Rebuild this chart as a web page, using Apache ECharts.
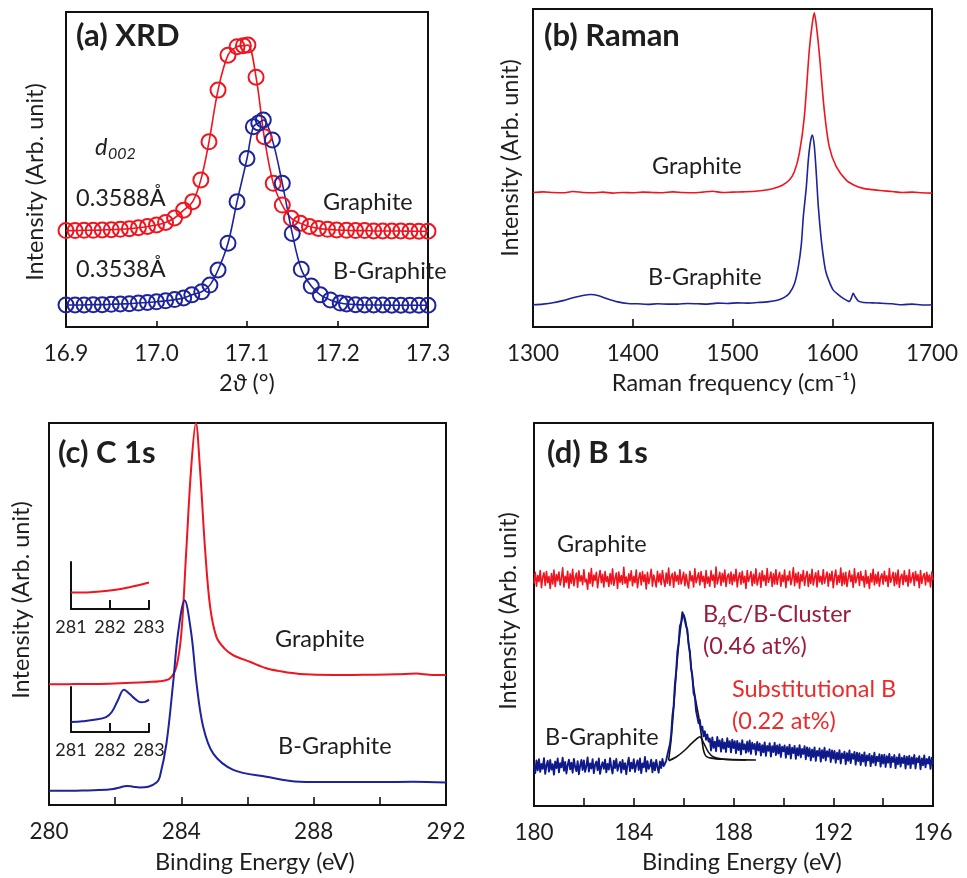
<!DOCTYPE html>
<html>
<head>
<meta charset="utf-8">
<script src="https://cdn.jsdelivr.net/npm/echarts@6.0.0/dist/echarts.min.js"></script>
<style>
html,body{margin:0;padding:0;background:#fff;}
#c{width:967px;height:878px;}
</style>
</head>
<body>
<div id="c"></div>
<script>
// ---------- (a) XRD : [2theta, intensity] ----------
const xrdGraphite = [[16.90,30.6],[16.91,30.6],[16.92,30.7],[16.93,30.7],[16.94,30.8],[16.95,30.9],[16.96,31.0],[16.97,31.2],[16.98,31.5],[16.99,31.9],[17.00,32.4],[17.01,33.2],[17.02,34.6],[17.03,37.1],[17.04,39.8],[17.049,46.7],[17.058,58.8],[17.068,75.2],[17.079,86.3],[17.089,89.0],[17.096,89.3],[17.101,89.5],[17.110,79.3],[17.119,60.4],[17.129,45.6],[17.139,38.7],[17.149,34.5],[17.159,32.9],[17.169,31.9],[17.179,31.3],[17.189,31.0],[17.199,30.8],[17.21,30.7],[17.22,30.6],[17.23,30.6],[17.24,30.5],[17.25,30.5],[17.26,30.5],[17.27,30.5],[17.28,30.4],[17.29,30.4],[17.30,30.4]];
const xrdBGraphite = [[16.90,7.0],[16.91,7.0],[16.92,7.0],[16.93,7.1],[16.94,7.1],[16.95,7.2],[16.96,7.3],[16.97,7.4],[16.98,7.6],[16.99,7.8],[17.00,8.0],[17.01,8.3],[17.02,8.7],[17.03,9.2],[17.039,10.2],[17.050,11.2],[17.059,13.3],[17.068,18.1],[17.079,26.6],[17.089,39.8],[17.100,53.5],[17.107,63.6],[17.113,64.8],[17.118,65.7],[17.128,59.4],[17.139,45.6],[17.150,29.7],[17.160,18.3],[17.171,13.0],[17.181,10.2],[17.192,8.6],[17.203,7.6],[17.21,7.3],[17.22,7.1],[17.23,7.0],[17.24,7.0],[17.25,7.0],[17.26,6.9],[17.27,6.9],[17.28,6.9],[17.29,6.9],[17.30,6.9]];
const xrdTicks = [16.9, 17.0, 17.1, 17.2, 17.3];

// ---------- (b) Raman : [cm-1, intensity] ----------
const ramanGraphite = [[1300,42.3],[1310,42.5],[1320,42.3],[1330,42.2],[1340,42.6],[1350,42.3],[1360,42.2],[1370,42.4],[1380,42.1],[1390,42.3],[1400,42.2],[1410,42.4],[1420,42.3],[1430,42.2],[1440,42.5],[1450,42.3],[1460,42.2],[1470,42.4],[1480,42.7],[1490,42.3],[1500,42.4],[1510,42.5],[1520,42.6],[1530,42.9],[1540,43.5],[1550,44.6],[1557,46.2],[1562,48.8],[1567,54.6],[1572,66.1],[1577,87.1],[1580,95.5],[1582,98.8],[1584,95.0],[1587,86.1],[1592,68.2],[1597,56.7],[1604,50.4],[1614,46.2],[1622,44.6],[1631,43.6],[1640,43.2],[1648,42.9],[1660,42.6],[1670,42.3],[1680,42.4],[1690,42.2],[1700,42.1]];
const ramanBGraphite = [[1300,7.0],[1310,7.2],[1320,7.6],[1330,8.3],[1340,9.2],[1350,9.9],[1358,10.2],[1366,9.8],[1375,8.8],[1385,7.9],[1395,7.4],[1405,7.3],[1415,7.1],[1425,7.3],[1435,7.2],[1445,7.2],[1455,7.4],[1465,7.3],[1475,7.2],[1485,7.5],[1495,7.4],[1505,7.6],[1515,7.5],[1525,7.7],[1535,7.9],[1545,8.4],[1552,9.3],[1557,10.6],[1562,13.5],[1566,19.0],[1569,26.0],[1571,34.7],[1574,44.0],[1576,52.5],[1578,58.0],[1580,60.4],[1582,57.0],[1584,48.3],[1586,38.0],[1589,27.4],[1592,20.0],[1594,16.9],[1598,13.5],[1601,11.6],[1606,10.2],[1611,9.0],[1615,8.3],[1617,8.0],[1619,9.0],[1621,10.6],[1623,9.5],[1626,8.2],[1630,7.8],[1640,7.6],[1648,7.5],[1660,7.3],[1670,7.0],[1680,7.2],[1690,6.9],[1700,7.0]];
const ramanTicks = [1300, 1400, 1500, 1600, 1700];

// ---------- (c) C 1s : [eV, intensity] ----------
const c1sGraphite = [[280.0,31.6],[280.5,31.6],[281.0,31.7],[281.5,31.7],[282.0,31.8],[282.5,32.0],[283.0,32.2],[283.35,32.4],[283.65,33.1],[283.85,36.2],[284.0,44.9],[284.15,66.7],[284.3,88.5],[284.44,100],[284.56,88.5],[284.72,66.7],[284.87,51.9],[285.06,44.0],[285.3,41.0],[285.57,39.2],[286.07,37.5],[286.57,35.8],[287.0,35.0],[287.58,34.3],[288.6,34.0],[289.5,34.1],[290.5,34.2],[291.1,34.4],[291.5,34.1],[292.0,34.0]];
const c1sBGraphite = [[280.0,3.7],[280.5,3.7],[281.0,3.8],[281.5,3.9],[281.94,4.2],[282.14,4.6],[282.34,5.0],[282.54,4.8],[282.74,4.6],[283.0,4.8],[283.25,5.9],[283.35,7.4],[283.55,16.1],[283.75,31.8],[283.9,44.9],[284.1,53.6],[284.3,44.9],[284.46,31.8],[284.66,20.5],[284.96,13.5],[285.57,9.2],[286.57,7.4],[287.58,6.1],[288.6,6.0],[290.0,6.0],[291.0,6.1],[292.0,5.9]];
const c1sTicks = [280, 284, 288, 292];
// insets (281-283 eV)
const insetGraphite = [[281.0,35.0],[281.5,35.7],[282.0,39.3],[282.5,46.4],[283.0,56.4]];
const insetBGraphite = [[281.0,22],[281.3,24],[281.6,27],[281.9,33],[282.05,45],[282.2,70],[282.36,94],[282.5,85],[282.65,73],[282.8,66],[282.9,67],[283.0,72]];
const insetTicks = [281, 282, 283];

// ---------- (d) B 1s : intensity sampled every 0.05 eV from 180.00 eV ----------
const b1sStart = 180.0, b1sStep = 0.05;
const b1sGraphite = [
58.1,61.0,57.4,60.2,58.6,61.5,57.0,59.8,60.9,57.6,61.2,58.3,59.9,56.8,60.7,58.0,61.6,57.3,60.4,58.8,
61.1,57.7,59.5,62.2,57.2,60.0,58.4,61.3,56.9,60.6,58.2,61.8,57.5,59.6,60.8,57.1,61.4,58.7,60.1,57.8,
61.7,58.5,59.2,56.6,60.9,58.1,62.0,57.4,60.3,58.9,61.0,57.0,59.7,61.5,58.3,60.5,57.2,61.2,58.6,59.9,
57.3,60.7,58.0,61.9,57.6,59.4,60.8,56.8,61.1,58.4,60.2,57.9,62.3,58.2,59.8,57.1,60.6,58.8,61.4,57.5,
60.0,58.3,61.6,57.0,59.5,60.9,57.7,61.2,58.6,60.4,56.7,61.0,58.1,59.7,61.8,57.4,60.3,58.9,57.2,61.3,
58.5,60.6,57.8,61.5,59.1,57.3,60.8,58.2,62.1,57.6,59.9,60.7,57.1,61.1,58.7,60.2,57.9,61.7,58.0,59.4,
61.0,57.5,60.5,58.4,56.9,61.3,58.8,60.1,57.2,61.9,58.3,59.6,60.9,57.7,61.2,58.6,60.0,57.0,61.5,58.2,
59.8,57.4,61.4,58.9,60.3,57.1,62.4,58.0,59.5,61.0,57.6,60.7,58.5,61.6,57.3,59.9,60.6,58.1,61.1,57.8,
60.4,58.7,61.8,57.2,59.6,60.9,57.9,61.3,58.3,60.0,56.8,61.5,58.6,59.7,61.2,57.5,60.5,58.2,61.9,57.7,
59.3,60.8,57.1,61.4,58.8,60.2,57.6,62.0,58.4,59.5,61.1,57.3,60.6,58.0,61.7,57.9,59.8,61.0,57.4,60.3,
58.6,61.6,57.0,60.1,58.9,61.3,57.8,59.4,62.2,57.5,60.7,58.3,61.0,56.9,60.4,58.7,61.5,57.6,59.9,61.2,
57.3,60.5,58.1,61.8,57.7,59.6,60.9,57.2,61.4,58.5,60.0,57.9,61.7,58.2,59.7,61.1,57.4,60.6,58.8,61.3,
57.0,59.8,61.6,57.8,60.2,58.4,62.1,57.5,60.8,58.0,61.0,57.3,59.5,61.4,58.6,60.3,57.1,61.9,58.3,59.6,
60.9,57.6,61.2,58.9,60.0,57.2,61.5,58.1,59.9,56.8,60.7,58.5,61.8,57.7,60.4,58.2,61.1,57.4,59.7,60.6,
57.9,61.3,58.7,60.1,57.3,62.0,58.4,59.6,61.0,57.5,60.8,58.0,61.6,57.1,59.8,60.5,57.8,61.4,58.6,60.2,
57.4,61.7,58.3,59.5,60.9,57.6,61.2,58.8,60.4,57.0,61.5,58.1,59.9,60.7,57.7,61.0,58.5,60.3,57.2,61.1,
59.0];
const b1sBGraphite = [
10.8,8.6,11.9,9.3,12.2,8.9,11.0,9.7,12.5,8.4,10.6,11.8,9.0,12.0,9.5,10.9,8.2,11.6,9.9,12.4,
8.8,11.2,10.1,12.6,9.2,11.5,8.5,10.7,12.1,9.6,11.3,8.7,12.3,10.2,9.1,11.7,8.3,10.5,12.0,9.4,
11.9,8.9,10.4,12.7,9.0,11.1,9.8,12.2,8.6,10.8,11.6,9.3,12.4,8.4,10.3,11.4,9.7,12.1,8.8,11.0,
9.5,12.5,10.0,8.5,11.8,9.9,12.3,9.2,10.6,11.5,8.7,12.0,9.6,11.2,8.3,10.9,12.6,9.1,11.3,9.8,
12.2,8.9,10.7,11.9,9.4,12.4,8.6,11.1,10.1,12.8,9.0,11.7,9.7,10.5,12.1,8.8,11.4,9.3,12.0,10.2,
8.7,11.6,9.9,12.3,10.4,11.1,
11.8,13.4,12.9,16.1,18.7,23.5,26.2,31.8,35.1,40.3,42.6,47.0,47.9,50.6,49.8,50.1,46.9,46.0,42.1,40.5,
35.8,34.0,29.4,28.5,24.8,24.7,21.6,22.5,19.8,20.7,18.2,19.5,17.3,18.7,16.8,
17.6,14.5,17.9,15.2,16.8,14.3,18.0,15.6,17.1,14.2,17.5,15.0,16.6,14.1,17.7,15.4,16.9,14.0,17.3,15.1,
16.9,13.8,17.0,14.6,16.4,13.5,17.2,14.8,16.1,13.9,16.8,14.2,17.1,13.6,16.5,14.9,16.2,13.4,16.7,14.5,
16.3,13.2,15.9,14.0,16.6,13.1,15.7,14.4,16.4,12.9,15.6,14.1,16.5,13.3,15.8,13.7,16.1,12.8,15.5,14.3,
15.8,12.6,15.4,13.5,16.0,12.4,15.2,13.8,15.7,12.3,15.1,13.2,15.9,12.7,14.9,13.6,15.6,12.2,15.3,13.0,
15.1,11.9,14.7,12.8,15.3,11.8,14.4,13.1,15.0,11.6,14.6,12.5,15.2,11.9,14.3,12.9,14.8,11.5,14.5,12.4,
14.4,11.3,13.9,12.2,14.6,11.1,13.7,12.5,14.2,10.9,13.8,11.8,14.5,11.2,13.6,12.3,14.1,10.8,13.9,11.7,
13.8,10.7,13.4,11.6,14.0,10.5,13.2,11.9,13.6,10.4,13.1,11.3,13.9,10.6,12.9,11.7,13.5,10.3,13.3,11.1,
13.4,10.2,13.0,11.3,13.6,10.1,12.8,11.5,13.3,9.9,12.7,10.9,13.5,10.3,12.6,11.2,13.1,9.8,12.9,10.8,
13.1,9.9,12.7,11.0,13.3,9.8,12.5,11.4,13.0,9.6,12.4,10.6,13.2,10.1,12.3,11.1,12.8,9.7,12.6,10.9];
// fitted components (black)
const b1sFitCluster = [[185.4,12.0],[185.5,17.5],[185.6,25.5],[185.7,34.5],[185.8,42.0],[185.9,47.5],[186.0,50.0],[186.1,47.5],[186.2,42.5],[186.3,36.5],[186.4,31.0],[186.5,27.0],[186.6,23.5],[186.7,19.0],[186.8,14.5],[186.9,13.0],[187.1,12.5],[187.6,12.2],[188.5,12.0]];
const b1sFitSubst = [[185.4,11.8],[185.7,12.8],[186.0,14.3],[186.3,16.2],[186.5,17.4],[186.65,18.1],[186.8,16.5],[187.0,14.0],[187.2,12.8],[187.5,12.3],[188.0,12.1],[188.9,12.0]];
const b1sTicks = [180, 184, 188, 192, 196];

// ---------- styles ----------
const FONT = 'Lato, "Open Sans", "DejaVu Sans", sans-serif';
const RED = '#f0141e';
const BLUE = '#1c239c';
const NAVY = '#0e1a8a';
const TXT = '#1e1e1e';

function seq(vals) { return vals.map((v, i) => [+(b1sStart + i * b1sStep).toFixed(2), v]); }

const chart = echarts.init(document.getElementById('c'), null, {renderer: 'canvas'});

const boxGrid = (l, t, w, h) => ({left: l, top: t, width: w, height: h, show: true, borderColor: '#111', borderWidth: 2, backgroundColor: 'transparent', containLabel: false});
const grids = [
  boxGrid(66, 12, 362, 315),
  boxGrid(533, 9, 399, 318),
  boxGrid(49, 423, 397, 382),
  boxGrid(534, 423, 399, 383),
  {left: 71, top: 562, width: 78, height: 47, show: false},
  {left: 71, top: 687, width: 78, height: 45, show: false}
];

function mainX(idx, min, max, interval, ticks, tickLen, fmt) {
  return {
    type: 'value', gridIndex: idx, min: min, max: max, interval: interval,
    axisLine: {show: true, onZero: false, lineStyle: {color: '#111', width: 2}},
    axisTick: {show: true, inside: true, length: tickLen, lineStyle: {color: '#111', width: 1.6}},
    splitLine: {show: false},
    axisLabel: {show: true, fontSize: 22.5, fontFamily: FONT, color: TXT, margin: 15,
      formatter: v => { const hit = ticks.find(t => Math.abs(t - v) < 1e-6); return hit === undefined ? '' : fmt(hit); }}
  };
}
function hiddenY(idx) {
  return {type: 'value', gridIndex: idx, min: 0, max: 100,
    axisLine: {show: true, onZero: false, lineStyle: {color: '#111', width: 2}},
    axisTick: {show: false}, axisLabel: {show: false}, splitLine: {show: false}};
}
function insetX(idx) {
  return {type: 'value', gridIndex: idx, min: 281, max: 283, interval: 1,
    axisLine: {show: true, onZero: false, lineStyle: {color: '#111', width: 2}},
    axisTick: {show: true, inside: true, length: 9, lineStyle: {color: '#111', width: 2}},
    splitLine: {show: false},
    axisLabel: {show: true, fontSize: 18, fontFamily: FONT, color: TXT, margin: 9,
      formatter: v => insetTicks.indexOf(Math.round(v)) >= 0 ? String(Math.round(v)) : ''}};
}

const xAxes = [
  mainX(0, 16.9, 17.3, 0.1, xrdTicks, 6, v => v.toFixed(1)),
  mainX(1, 1300, 1700, 100, ramanTicks, 8, v => String(v)),
  mainX(2, 280, 292, 2, c1sTicks, 8, v => String(v)),
  mainX(3, 180, 196, 2, b1sTicks, 8, v => String(v)),
  insetX(4), insetX(5)
];
const yAxes = [hiddenY(0), hiddenY(1), hiddenY(2), hiddenY(3), hiddenY(4), hiddenY(5)];

function lineSeries(idx, data, color, width, smooth, z) {
  return {type: 'line', xAxisIndex: idx, yAxisIndex: idx, data: data, showSymbol: false, symbol: 'none',
    smooth: smooth, lineStyle: {color: color, width: width, join: 'round'}, itemStyle: {color: color},
    emphasis: {disabled: true}, silent: true, z: z === undefined ? 2 : z, animation: false};
}
function xrdSeries(data, color) {
  return {type: 'line', xAxisIndex: 0, yAxisIndex: 0, data: data, smooth: 0.35,
    symbol: 'circle', symbolSize: 15, showSymbol: true, showAllSymbol: true,
    itemStyle: {color: 'rgba(255,255,255,0)', borderColor: color, borderWidth: 2},
    lineStyle: {color: color, width: 1.6}, emphasis: {disabled: true}, silent: true, animation: false};
}

const series = [
  xrdSeries(xrdGraphite, RED),
  xrdSeries(xrdBGraphite, BLUE),
  lineSeries(1, ramanGraphite, RED, 1.6, 0.25),
  lineSeries(1, ramanBGraphite, BLUE, 1.6, 0.25),
  lineSeries(2, c1sGraphite, RED, 2, 0.35),
  lineSeries(2, c1sBGraphite, BLUE, 2, 0.35),
  lineSeries(3, b1sFitCluster, '#111', 1.6, 0.3, 1),
  lineSeries(3, b1sFitSubst, '#111', 1.6, 0.3, 1),
  lineSeries(3, seq(b1sGraphite), RED, 1.6, false),
  lineSeries(3, seq(b1sBGraphite), NAVY, 1.9, false),
  lineSeries(4, insetGraphite, RED, 2, 0.4),
  lineSeries(5, insetBGraphite, BLUE, 2, 0.4)
];

function T(x, y, text, size, extra) {
  const e = extra || {};
  return {type: 'text', x: x, y: y, rotation: e.rotation || 0, silent: true, z: 100,
    style: Object.assign({text: text, fontSize: size, fontFamily: FONT, fill: e.fill || TXT,
      fontWeight: e.bold ? 'bold' : 'normal', fontStyle: e.italic ? 'italic' : 'normal',
      align: e.align || 'left', verticalAlign: 'middle', textAlign: e.align || 'left', textVerticalAlign: 'middle'},
      e.rich ? {rich: e.rich} : {})};
}
const V = Math.PI / 2;
const MAROON = '#9a1c3c';
const SUBRED = '#ec2a2a';
const LS = 23.5;   // label font size
const HS = 31;     // panel heading size
const graphic = [
  // panel titles
  T(76, 36, '(a) XRD', HS, {bold: true}),
  T(544, 36, '(b) Raman', HS, {bold: true}),
  T(58, 453, '(c) C 1s', HS, {bold: true}),
  T(547, 453, '(d) B 1s', HS, {bold: true}),
  // (a)
  T(95, 147, 'd', LS, {italic: true}),
  T(108, 154, '002', 16, {italic: true}),
  T(76, 198, '0.3588Å', LS),
  T(76, 269, '0.3538Å', LS),
  T(323, 202, 'Graphite', LS),
  T(333, 271, 'B-Graphite', LS),
  // (b)
  T(652, 166, 'Graphite', LS),
  T(648, 277, 'B-Graphite', LS),
  // (c)
  T(275, 639, 'Graphite', LS),
  T(278, 746, 'B-Graphite', LS),
  // (d)
  T(557, 544, 'Graphite', LS),
  T(703, 614, 'B', LS, {fill: MAROON}),
  T(718, 622, '4', 15, {fill: MAROON}),
  T(727, 614, 'C/B-Cluster', LS, {fill: MAROON}),
  T(703, 646, '(0.46 at%)', LS, {fill: MAROON}),
  T(732, 689, 'Substitutional B', LS, {fill: SUBRED}),
  T(732, 721, '(0.22 at%)', LS, {fill: SUBRED}),
  T(545, 737, 'B-Graphite', LS),
  // axis titles
  T(35, 182, 'Intensity (Arb. unit)', LS, {rotation: V, align: 'center'}),
  T(510, 158, 'Intensity (Arb. unit)', LS, {rotation: V, align: 'center'}),
  T(21, 600, 'Intensity (Arb. unit)', LS, {rotation: V, align: 'center'}),
  T(508, 611, 'Intensity (Arb. unit)', LS, {rotation: V, align: 'center'}),
  T(247, 383, '2{i|ϑ} (°)', LS, {align: 'center', rich: {i: {fontStyle: 'italic', fontSize: LS, fontFamily: FONT, fill: TXT}}}),
  T(734, 383, 'Raman frequency (cm⁻¹)', LS, {align: 'center'}),
  T(255, 862, 'Binding Energy (eV)', LS, {align: 'center'}),
  T(742, 862, 'Binding Energy (eV)', LS, {align: 'center'})
];

chart.setOption({
  animation: false,
  backgroundColor: '#ffffff',
  textStyle: {fontFamily: FONT},
  grid: grids,
  xAxis: xAxes,
  yAxis: yAxes,
  series: series,
  graphic: graphic
});
</script>
</body>
</html>
